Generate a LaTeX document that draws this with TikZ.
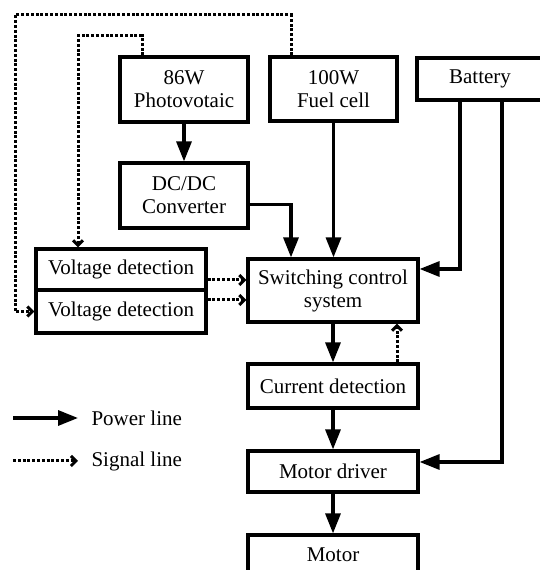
\documentclass[tikz,border=0pt]{standalone}
\usepackage{fontspec}
\setmainfont{Liberation Serif}
\usetikzlibrary{arrows.meta}
\begin{document}
\begin{tikzpicture}[x=1pt, y=1pt, font=\fontsize{21}{23}\selectfont,
  blk/.style={draw, line width=3.2pt, align=center, inner sep=0pt, minimum width=170pt},
  pw/.style={-{Triangle[length=20pt,width=15pt]}, line width=3.2pt},
  sg/.style={-{Straight Barb[length=5pt,width=10pt]}, line width=3pt, dash pattern=on 3pt off 1.8pt}]
  \useasboundingbox (0,0) rectangle (540,570);
  \clip (0,0) rectangle (540,570);
  % Sources
  \node[blk, minimum width=128pt, minimum height=65pt] (pv)   at (184,480.5) {86W\\Photovotaic};
  \node[blk, minimum width=127pt, minimum height=64pt] (fc)   at (333.5,481) {100W\\Fuel cell};
  \node[blk, minimum width=126pt, minimum height=42pt] (bat)  at (480,491)   {Battery};
  \node[blk, minimum width=128pt, minimum height=65pt] (dcdc) at (184,374.5) {DC/DC\\Converter};
  % Detection and control
  \node[blk, minimum height=41pt] (vdu) at (121,300.5) {Voltage detection};
  \node[blk, minimum height=43pt] (vdl) at (121,258.5) {Voltage detection};
  \node[blk, minimum height=63pt] (scs) at (333,279.5) {Switching control\\system};
  \node[blk, minimum height=44pt] (cd)  at (333,184)   {Current detection};
  \node[blk, minimum height=41pt] (md)  at (333,98.5)  {Motor driver};
  \node[blk, minimum height=40pt] (mot) at (333,15)    {Motor};
  % Power lines
  \draw[pw] (pv) -- (dcdc);
  \draw[pw] ([yshift=-9pt]dcdc.east) -| ([xshift=-42pt]scs.north);
  \draw[pw] (fc.south) -- (fc.south |- scs.north);
  \draw[pw] ([xshift=-20pt]bat.south) |- ([yshift=21.5pt]scs.east);
  \draw[pw] ([xshift=22pt]bat.south) |- ([yshift=9.5pt]md.east);
  \draw[pw] (scs) -- (cd);
  \draw[pw] (cd) -- (md);
  \draw[pw] (md) -- (mot);
  % Signal lines
  \coordinate (pvturn) at (78,534);
  \coordinate (fcturn) at (15,555);
  \draw[sg] ([xshift=-42pt]pv.north) |- (pvturn) -- (pvturn |- vdu.north);
  \draw[sg] ([xshift=-42.5pt]fc.north) |- (fcturn) |- (vdl.west);
  \draw[sg] ([yshift=-10.5pt]vdu.east) -- ([yshift=-10.5pt]vdu.east -| scs.west);
  \draw[sg] ([yshift=11.5pt]vdl.east) -- ([yshift=11.5pt]vdl.east -| scs.west);
  \draw[sg] ([xshift=64pt]cd.north) -- ([xshift=64pt]scs.south);
  % Legend
  \coordinate (pwa) at (13,152);
  \coordinate (pwb) at (78,152);
  \coordinate (sga) at (13,109);
  \coordinate (sgb) at (78,109);
  \draw[pw] (pwa) -- (pwb);
  \draw[sg] (sga) -- (sgb);
  \node[anchor=west] (pwtxt) at (88,152) {Power line};
  \node[anchor=west] (sgtxt) at (88,109) {Signal line};
\end{tikzpicture}
\end{document}
